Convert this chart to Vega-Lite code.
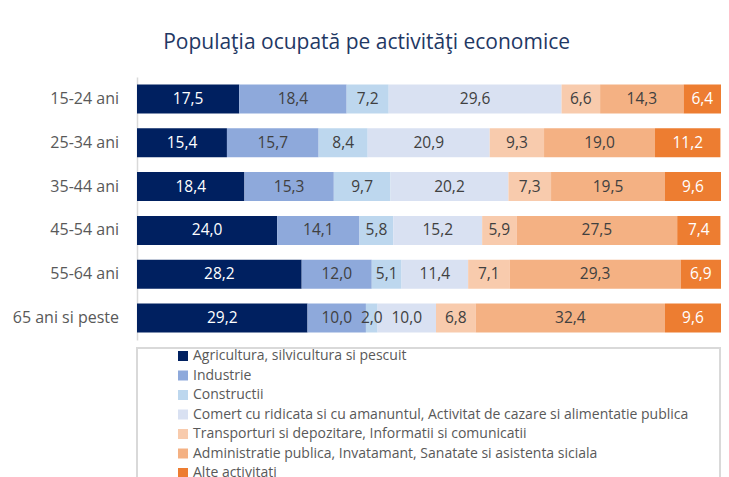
{
  "$schema": "https://vega.github.io/schema/vega-lite/v6.json",
  "padding": {"left": 12, "top": 32, "right": 7, "bottom": 0},
  "config": {
    "font": "Open Sans",
    "locale": {"number": {"decimal": ",", "thousands": ".", "grouping": [3], "currency": ["", ""]}},
    "view": {"stroke": null},
    "axis": {"grid": false}
  },
  "title": {
    "text": "Populaţia ocupată pe activităţi economice",
    "font": "Open Sans",
    "fontSize": 21,
    "fontWeight": "normal",
    "color": "#1F3864",
    "anchor": "middle",
    "frame": "bounds",
    "offset": 24
  },
  "data": {
    "values": [
      {"age": "15-24 ani", "series": "Agricultura, silvicultura si pescuit", "idx": 1, "value": 17.5},
      {"age": "15-24 ani", "series": "Industrie", "idx": 2, "value": 18.4},
      {"age": "15-24 ani", "series": "Constructii", "idx": 3, "value": 7.2},
      {"age": "15-24 ani", "series": "Comert cu ridicata si cu amanuntul, Activitat de cazare si alimentatie publica", "idx": 4, "value": 29.6},
      {"age": "15-24 ani", "series": "Transporturi si depozitare, Informatii si comunicatii", "idx": 5, "value": 6.6},
      {"age": "15-24 ani", "series": "Administratie publica, Invatamant, Sanatate si asistenta siciala", "idx": 6, "value": 14.3},
      {"age": "15-24 ani", "series": "Alte activitati", "idx": 7, "value": 6.4},
      {"age": "25-34 ani", "series": "Agricultura, silvicultura si pescuit", "idx": 1, "value": 15.4},
      {"age": "25-34 ani", "series": "Industrie", "idx": 2, "value": 15.7},
      {"age": "25-34 ani", "series": "Constructii", "idx": 3, "value": 8.4},
      {"age": "25-34 ani", "series": "Comert cu ridicata si cu amanuntul, Activitat de cazare si alimentatie publica", "idx": 4, "value": 20.9},
      {"age": "25-34 ani", "series": "Transporturi si depozitare, Informatii si comunicatii", "idx": 5, "value": 9.3},
      {"age": "25-34 ani", "series": "Administratie publica, Invatamant, Sanatate si asistenta siciala", "idx": 6, "value": 19.0},
      {"age": "25-34 ani", "series": "Alte activitati", "idx": 7, "value": 11.2},
      {"age": "35-44 ani", "series": "Agricultura, silvicultura si pescuit", "idx": 1, "value": 18.4},
      {"age": "35-44 ani", "series": "Industrie", "idx": 2, "value": 15.3},
      {"age": "35-44 ani", "series": "Constructii", "idx": 3, "value": 9.7},
      {"age": "35-44 ani", "series": "Comert cu ridicata si cu amanuntul, Activitat de cazare si alimentatie publica", "idx": 4, "value": 20.2},
      {"age": "35-44 ani", "series": "Transporturi si depozitare, Informatii si comunicatii", "idx": 5, "value": 7.3},
      {"age": "35-44 ani", "series": "Administratie publica, Invatamant, Sanatate si asistenta siciala", "idx": 6, "value": 19.5},
      {"age": "35-44 ani", "series": "Alte activitati", "idx": 7, "value": 9.6},
      {"age": "45-54 ani", "series": "Agricultura, silvicultura si pescuit", "idx": 1, "value": 24.0},
      {"age": "45-54 ani", "series": "Industrie", "idx": 2, "value": 14.1},
      {"age": "45-54 ani", "series": "Constructii", "idx": 3, "value": 5.8},
      {"age": "45-54 ani", "series": "Comert cu ridicata si cu amanuntul, Activitat de cazare si alimentatie publica", "idx": 4, "value": 15.2},
      {"age": "45-54 ani", "series": "Transporturi si depozitare, Informatii si comunicatii", "idx": 5, "value": 5.9},
      {"age": "45-54 ani", "series": "Administratie publica, Invatamant, Sanatate si asistenta siciala", "idx": 6, "value": 27.5},
      {"age": "45-54 ani", "series": "Alte activitati", "idx": 7, "value": 7.4},
      {"age": "55-64 ani", "series": "Agricultura, silvicultura si pescuit", "idx": 1, "value": 28.2},
      {"age": "55-64 ani", "series": "Industrie", "idx": 2, "value": 12.0},
      {"age": "55-64 ani", "series": "Constructii", "idx": 3, "value": 5.1},
      {"age": "55-64 ani", "series": "Comert cu ridicata si cu amanuntul, Activitat de cazare si alimentatie publica", "idx": 4, "value": 11.4},
      {"age": "55-64 ani", "series": "Transporturi si depozitare, Informatii si comunicatii", "idx": 5, "value": 7.1},
      {"age": "55-64 ani", "series": "Administratie publica, Invatamant, Sanatate si asistenta siciala", "idx": 6, "value": 29.3},
      {"age": "55-64 ani", "series": "Alte activitati", "idx": 7, "value": 6.9},
      {"age": "65 ani si peste", "series": "Agricultura, silvicultura si pescuit", "idx": 1, "value": 29.2},
      {"age": "65 ani si peste", "series": "Industrie", "idx": 2, "value": 10.0},
      {"age": "65 ani si peste", "series": "Constructii", "idx": 3, "value": 2.0},
      {"age": "65 ani si peste", "series": "Comert cu ridicata si cu amanuntul, Activitat de cazare si alimentatie publica", "idx": 4, "value": 10.0},
      {"age": "65 ani si peste", "series": "Transporturi si depozitare, Informatii si comunicatii", "idx": 5, "value": 6.8},
      {"age": "65 ani si peste", "series": "Administratie publica, Invatamant, Sanatate si asistenta siciala", "idx": 6, "value": 32.4},
      {"age": "65 ani si peste", "series": "Alte activitati", "idx": 7, "value": 9.6}
    ]
  },
  "spacing": 7,
  "vconcat": [
    {
      "width": 584,
      "height": 263,
      "view": {"stroke": null},
      "encoding": {
        "y": {
          "field": "age",
          "type": "nominal",
          "sort": ["15-24 ani", "25-34 ani", "35-44 ani", "45-54 ani", "55-64 ani", "65 ani si peste"],
          "scale": {"paddingInner": 0.34, "paddingOuter": 0.17},
          "axis": {
            "title": null,
            "ticks": false,
            "domainColor": "#d9d9d9",
            "domainWidth": 1.5,
            "labelColor": "#595959",
            "labelFontSize": 16,
            "labelPadding": 18.5,
            "labelFont": "Open Sans"
          }
        }
      },
      "layer": [
        {
          "mark": {"type": "bar"},
          "encoding": {
            "x": {"field": "value", "type": "quantitative", "stack": "zero", "scale": {"domain": [0, 100], "nice": false}, "axis": null},
            "color": {
              "field": "series",
              "type": "nominal",
              "scale": {
                "domain": [
                  "Agricultura, silvicultura si pescuit",
                  "Industrie",
                  "Constructii",
                  "Comert cu ridicata si cu amanuntul, Activitat de cazare si alimentatie publica",
                  "Transporturi si depozitare, Informatii si comunicatii",
                  "Administratie publica, Invatamant, Sanatate si asistenta siciala",
                  "Alte activitati"
                ],
                "range": ["#002060", "#8EA9DB", "#BDD7EE", "#D9E1F2", "#F8CBAD", "#F4B183", "#ED7D31"]
              },
              "legend": {
                "title": null,
                "orient": "none",
                "legendX": 39,
                "legendY": 272,
                "direction": "vertical",
                "symbolType": "square",
                "symbolSize": 100,
                "symbolStrokeWidth": 0,
                "labelFontSize": 14,
                "labelColor": "#595959",
                "labelFont": "Open Sans",
                "labelLimit": 0,
                "labelOffset": 3,
                "rowPadding": 5.5,
                "padding": 0
              }
            },
            "order": {"field": "idx", "type": "quantitative"}
          }
        },
        {
          "transform": [
            {"stack": "value", "groupby": ["age"], "sort": [{"field": "idx", "order": "ascending"}], "as": ["x0", "x1"]},
            {"fold": ["x0", "x1"], "as": ["edge", "pos"]},
            {"aggregate": [{"op": "mean", "field": "pos", "as": "mid"}], "groupby": ["age", "series", "value", "idx"]}
          ],
          "mark": {"type": "text", "fontSize": 15.5, "font": "Open Sans", "baseline": "middle", "align": "center"},
          "encoding": {
            "x": {"field": "mid", "type": "quantitative"},
            "text": {"field": "value", "type": "quantitative", "format": ".1f"},
            "color": {
              "condition": {"test": "datum.idx === 1 || datum.idx === 7", "value": "#ffffff"},
              "value": "#404040"
            }
          }
        }
      ]
    },
    {
      "width": 583,
      "height": 140,
      "view": {"stroke": "#d9d9d9", "strokeWidth": 2},
      "mark": {"type": "point", "opacity": 0},
      "encoding": {}
    }
  ]
}
